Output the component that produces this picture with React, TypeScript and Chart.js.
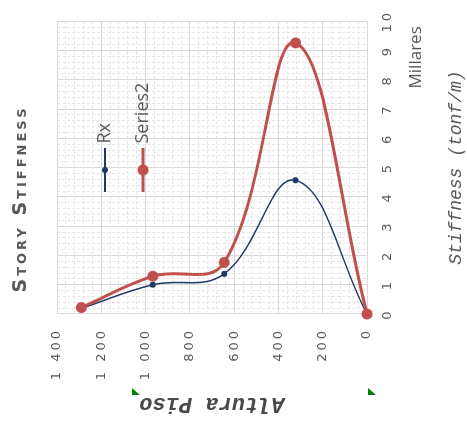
import React, { useEffect, useRef } from 'react';
import { Chart, registerables } from 'chart.js';

Chart.register(...registerables);

// ---- data ----
const storyHeights = [1290, 967.5, 645, 322.5, 0];
const rxStiffness = [190, 1000, 1370, 4570, 0];
const series2Stiffness = [220, 1290, 1760, 9260, 0];
const seriesNames = ['Rx', 'Series2'];
const heightRange = [0, 1400];
const stiffnessRange = [0, 10000];
const heightMajorStep = 200;
const stiffnessMajorStep = 1000;
const chartTitle = 'Story Stiffness';
const heightTitle = 'Altura Piso';
const stiffnessTitle = 'Stiffness (tonf/m)';
const displayUnitLabel = 'Millares';

const RX_COLOR = '#1F3864';
const S2_COLOR = '#C0504D';
const TEXT = '#595959';
const MAJOR = '#d9d9d9';
const MINOR = '#e6e6e6';

const fmtThousands = (v: number) => String(Math.round(v)).replace(/\B(?=(\d{3})+(?!\d))/g, ' ');

function swatch(color: string, lw: number, r: number) {
  const c = document.createElement('canvas');
  c.width = 44;
  c.height = 14;
  const g = c.getContext('2d')!;
  g.fillStyle = color;
  g.fillRect(0, 7 - lw / 2, 44, lw);
  g.beginPath();
  g.arc(22, 7, r, 0, Math.PI * 2);
  g.fill();
  return c;
}

function withSpacing(chart: any, obj: any, spacing: string) {
  if (!obj || obj.__patched) return;
  obj.__patched = true;
  const key = typeof obj.drawLabels === 'function' ? 'drawLabels' : 'draw';
  const orig = obj[key].bind(obj);
  obj[key] = (area: any) => {
    const ctx = chart.ctx;
    ctx.save();
    (ctx as any).letterSpacing = spacing;
    orig(area);
    ctx.restore();
  };
}

const tweaks = {
  id: 'tweaks',
  afterLayout(chart: any) {
    const ca = chart.chartArea;
    const t = chart.titleBlock;
    if (t) {
      t.left += 20;
      t.right += 20;
      withSpacing(chart, t, '3px');
    }
    const lg = chart.legend;
    if (lg) {
      lg.left = ca.left + 106.5;
      lg.top = ca.top + 19;
      lg.right = ca.right;
      lg.bottom = ca.bottom;
      lg.width = lg.right - lg.left;
      lg.height = lg.bottom - lg.top;
    }
    Object.values(chart.scales).forEach((s: any) => withSpacing(chart, s, '3px'));
  },
  afterDraw(chart: any) {
    const ctx = chart.ctx;
    const ca = chart.chartArea;
    ctx.save();
    ctx.font = '17px "Open Sans"';
    ctx.fillStyle = TEXT;
    ctx.textAlign = 'right';
    ctx.textBaseline = 'middle';
    ctx.fillText(displayUnitLabel, ca.right - 5, ca.bottom + 49);
    ctx.fillStyle = '#008000';
    [132, 368].forEach((y) => {
      ctx.beginPath();
      ctx.moveTo(33, y);
      ctx.lineTo(26, y);
      ctx.lineTo(26, y + 8);
      ctx.closePath();
      ctx.fill();
    });
    ctx.restore();
  },
};

export default function App() {
  const ref = useRef<HTMLCanvasElement>(null);
  useEffect(() => {
    const swatches = [swatch(RX_COLOR, 2, 3), swatch(S2_COLOR, 3, 5.5)];
    const isMajorX = (v: number) => Math.round(v) % stiffnessMajorStep === 0;
    const isMajorY = (v: number) => Math.round(v) % heightMajorStep === 0;
    const tickFont = { family: 'DejaVu Sans', size: 13 };
    const chart = new Chart(ref.current!, {
      type: 'scatter',
      data: {
        datasets: [
          {
            label: seriesNames[0],
            data: storyHeights.map((h, i) => ({ x: rxStiffness[i], y: h })),
            showLine: true,
            borderColor: RX_COLOR,
            backgroundColor: RX_COLOR,
            borderWidth: 1.5,
            pointRadius: 3,
            pointBorderWidth: 0,
            pointBackgroundColor: RX_COLOR,
            tension: 0.4,
            clip: false as any,
            order: 1,
          },
          {
            label: seriesNames[1],
            data: storyHeights.map((h, i) => ({ x: series2Stiffness[i], y: h })),
            showLine: true,
            borderColor: S2_COLOR,
            backgroundColor: S2_COLOR,
            borderWidth: 3,
            pointRadius: 5.5,
            pointBorderWidth: 0,
            pointBackgroundColor: S2_COLOR,
            tension: 0.4,
            clip: false as any,
            order: 0,
          },
        ],
      },
      options: {
        responsive: false,
        animation: false,
        layout: { padding: { left: 0, right: 17, top: 0, bottom: 0 } },
        plugins: {
          title: {
            display: true,
            text: chartTitle,
            color: TEXT,
            font: { family: 'DejaVu Sans', size: 19, weight: 'small-caps bold' as any },
            padding: { top: 9.5, bottom: 24.7 },
          },
          legend: {
            position: 'chartArea' as any,
            align: 'start',
            labels: {
              color: TEXT,
              font: { family: 'Open Sans', size: 18 },
              usePointStyle: true,
              pointStyleWidth: 35,
              padding: 20,
              sort: (a: any, b: any) => a.datasetIndex - b.datasetIndex,
              generateLabels: (c: any) => {
                const items = (Chart.defaults.plugins.legend.labels as any).generateLabels(c);
                items.forEach((it: any) => {
                  it.pointStyle = swatches[it.datasetIndex];
                });
                return items;
              },
            },
          },
          tooltip: { enabled: false },
        },
        scales: {
          x: {
            type: 'linear',
            position: 'bottom',
            min: stiffnessRange[0],
            max: stiffnessRange[1],
            afterFit: (s: any) => {
              s.height = 100;
            },
            ticks: {
              stepSize: 200,
              autoSkip: false,
              maxRotation: 0,
              minRotation: 0,
              padding: 13,
              color: TEXT,
              font: tickFont,
              callback: (v: any) => (isMajorX(v) ? String(Math.round(v) / stiffnessMajorStep) : ''),
            },
            grid: {
              drawTicks: false,
              lineWidth: 1,
              color: (c: any) => (c.tick && isMajorX(c.tick.value) ? MAJOR : MINOR),
            },
            border: {
              display: false,
              dash: (c: any) => (c.tick && isMajorX(c.tick.value) ? [] : [3, 2]),
            } as any,
            title: {
              display: true,
              text: stiffnessTitle,
              color: TEXT,
              font: { family: 'Liberation Mono', size: 18, style: 'italic' },
              padding: { top: 0, bottom: 0 },
            },
          },
          y: {
            type: 'linear',
            position: 'left',
            min: heightRange[0],
            max: heightRange[1],
            afterFit: (s: any) => {
              s.width = 107;
            },
            ticks: {
              stepSize: 40,
              autoSkip: false,
              padding: 14,
              color: TEXT,
              font: tickFont,
              callback: (v: any) => (isMajorY(v) ? fmtThousands(v) : ''),
            },
            grid: {
              drawTicks: false,
              lineWidth: 1,
              color: (c: any) => (c.tick && isMajorY(c.tick.value) ? MAJOR : MINOR),
            },
            border: {
              display: false,
              dash: (c: any) => (c.tick && isMajorY(c.tick.value) ? [] : [3, 2]),
            } as any,
            title: {
              display: true,
              text: heightTitle,
              color: '#4a4a4a',
              font: { family: 'Liberation Mono', size: 22, style: 'italic', weight: 'bold' },
              padding: { top: 4, bottom: 0 },
            },
          },
        },
      },
      plugins: [tweaks],
    });
    return () => chart.destroy();
  }, []);

  return (
    <div style={{ position: 'absolute', left: 0, top: 0, width: 467, height: 421, overflow: 'hidden', background: '#fff' }}>
      <div
        style={{
          position: 'absolute',
          left: 0,
          top: 0,
          width: 421,
          height: 467,
          transformOrigin: '0 0',
          transform: 'translate(0px, 421px) rotate(-90deg)',
        }}
      >
        <canvas ref={ref} width={421} height={467} style={{ display: 'block' }} />
      </div>
    </div>
  );
}
